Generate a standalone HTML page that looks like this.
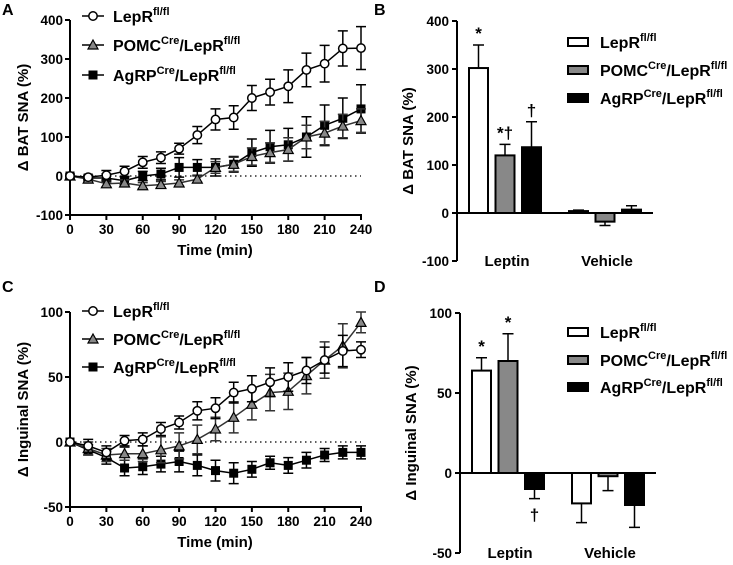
<!DOCTYPE html>
<html><head><meta charset="utf-8"><style>
body{margin:0;background:#fff}
svg text{font-family:"Liberation Sans",Arial,sans-serif;font-weight:bold;fill:#000}
</style></head><body>
<svg id="fig" width="733" height="560" viewBox="0 0 733 560" xmlns="http://www.w3.org/2000/svg">
<text x="2" y="15" font-size="16">A</text>
<text x="374" y="15" font-size="16">B</text>
<text x="2" y="292" font-size="16">C</text>
<text x="374" y="292" font-size="16">D</text>
</svg>
<script>
const times=[0,15,30,45,60,75,90,105,120,135,150,165,180,195,210,225,240];
const xTicks=[0,30,60,90,120,150,180,210,240];
const aLep=[0,-3,2,12,35,47,70,105,145,150,200,215,230,272,288,327,328];
const aLepE=[0,5,12,13,15,15,14,22,27,30,32,33,42,43,47,45,55];
const aPomc=[0,-8,-20,-18,-25,-22,-18,-8,22,30,50,60,68,100,110,128,142];
const aPomcE=[5,5,8,8,8,8,8,8,15,18,22,25,30,30,30,30,30];
const aAgrp=[0,-5,-5,-12,0,5,22,22,22,30,60,75,80,100,130,148,172];
const aAgrpE=[5,5,10,10,12,15,25,20,22,20,35,42,42,52,52,52,62];
const aTicks=[-100,0,100,200,300,400];
const cLep=[0,-3,-8,1,2,10,15,24,26,38,41,46,50,55,63,70,71];
const cLepE=[0,5,5,4,5,5,5,7,8,8,10,11,11,10,10,12,6];
const cPomc=[0,-5,-10,-9,-9,-6,-3,2,10,19,29,38,39,51,63,74,92];
const cPomcE=[0,5,5,5,6,10,10,11,9,12,12,14,14,14,14,17,8];
const cAgrp=[0,-6,-12,-20,-19,-17,-15,-18,-22,-24,-21,-16,-18,-14,-10,-8,-8];
const cAgrpE=[0,4,5,6,6,6,8,8,8,8,6,5,6,6,5,5,5];
const cTicks=[-50,0,50,100];
const groups=["Leptin","Vehicle"];
const bVals=[[302,120,137],[4,-18,7]];
const bErrs=[[48,23,53],[2,8,8]];
const bTicks=[-100,0,100,200,300,400];
const bMarks=[["*","*†","†"],["","",""]];
const dVals=[[64,70,-10],[-19,-2,-20]];
const dErrs=[[8,17,6],[12,9,14]];
const dTicks=[-50,0,50,100];
const dMarks=[["*","*","†"],["","",""]];

const svg=document.getElementById('fig');
const NS='http://www.w3.org/2000/svg';
function mk(tag,attrs,parent,name){const e=document.createElementNS(NS,tag);for(const k in attrs)e.setAttribute(k,attrs[k]);


(parent||svg).appendChild(e);return e;}
function legendText(g,x,y,sup1,name){const t=mk('text',{x:x,y:y+6,'font-size':16},g,name);
 if(sup1){t.appendChild(document.createTextNode(sup1[0]));const s=document.createElementNS(NS,'tspan');s.setAttribute('font-size','11');s.setAttribute('dy','-7');s.textContent=sup1[1];t.appendChild(s);
 const s2=document.createElementNS(NS,'tspan');s2.setAttribute('dy','7');s2.textContent='/LepR';t.appendChild(s2);
 const s3=document.createElementNS(NS,'tspan');s3.setAttribute('font-size','11');s3.setAttribute('dy','-7');s3.textContent='fl/fl';t.appendChild(s3);}
 else{t.appendChild(document.createTextNode('LepR'));const s=document.createElementNS(NS,'tspan');s.setAttribute('font-size','11');s.setAttribute('dy','-7');s.textContent='fl/fl';t.appendChild(s);}
}
const labels=[null,['POMC','Cre'],['AgRP','Cre']];
function marker(g,type,x,y,name){
 if(type==0)mk('circle',{cx:x,cy:y,r:4.2,fill:'#fff',stroke:'#000','stroke-width':1.5},g,name);
 else if(type==1)mk('path',{d:`M${x} ${y-5}L${x+5} ${y+4}L${x-5} ${y+4}Z`,fill:'#888',stroke:'#000','stroke-width':1.2},g,name);
 else mk('rect',{x:x-4.5,y:y-4.5,width:9,height:9,fill:'#000'},g,name);
}
function linePanel(id,y0,y1,ymin,ymax,ticks,series,errs,title,legY){
 const g=mk('g',{},svg,'line-chart-'+id);
 const X=t=>70+t/240*291, Y=v=>y0+(v-ymin)/(ymax-ymin)*(y1-y0);
 mk('line',{x1:70,y1:Y(ticks[ticks.length-1]),x2:70,y2:y0,stroke:'#000','stroke-width':2},g,'y-axis');
 mk('line',{x1:69,y1:y0,x2:362,y2:y0,stroke:'#000','stroke-width':2},g,'x-axis');
 mk('line',{x1:70,y1:Y(0),x2:361,y2:Y(0),stroke:'#000','stroke-width':1.3,'stroke-dasharray':'1.5 3.5'},g,'zero-line');
 ticks.forEach(v=>{mk('line',{x1:65,y1:Y(v),x2:70,y2:Y(v),stroke:'#000','stroke-width':2},g,'y-tick');
  const t=mk('text',{x:63,y:Y(v)+5,'font-size':13.5,'text-anchor':'end'},g,'y-tick-label');t.textContent=v;});
 xTicks.forEach(v=>{mk('line',{x1:X(v),y1:y0,x2:X(v),y2:y0+5,stroke:'#000','stroke-width':2},g,'x-tick');
  const t=mk('text',{x:X(v),y:y0+19,'font-size':13.5,'text-anchor':'middle'},g,'x-tick-label');t.textContent=v;});
 const xt=mk('text',{x:215,y:y0+40,'font-size':15,'text-anchor':'middle'},g,'x-axis-title');xt.textContent='Time (min)';
 const yt=mk('text',{x:0,y:0,'font-size':15,'text-anchor':'middle',transform:`translate(28,${(Y(ticks[ticks.length-1])+y0)/2}) rotate(-90)`},g,'y-axis-title');yt.textContent=title;
 [2,1,0].forEach(s=>{
  const sg=mk('g',{},g,'series-'+s);
  series[s].forEach((v,i)=>{const x=X(times[i]);const e=errs[s][i];
   mk('path',{d:`M${x} ${Y(v-e)}V${Y(v+e)}M${x-5} ${Y(v+e)}H${x+5}M${x-5} ${Y(v-e)}H${x+5}`,stroke:s==1?'#333':'#000','stroke-width':1.5,fill:'none'},sg,'error-bar');});
  mk('polyline',{points:series[s].map((v,i)=>X(times[i])+','+Y(v)).join(' '),fill:'none',stroke:s==1?'#333':'#000','stroke-width':1.5},sg,'series-line');
  series[s].forEach((v,i)=>marker(sg,s,X(times[i]),Y(v),'point'));
 });
 legY.forEach((ly,s)=>{const lg=mk('g',{},g,'legend-entry');
  mk('line',{x1:82,y1:ly,x2:104,y2:ly,stroke:'#000','stroke-width':1.5},lg,'legend-line');
  marker(lg,s,93,ly,'legend-marker');legendText(lg,113,ly,labels[s],'legend-label');});
}
function barPanel(id,ax,y0,ybot,ymin,ymax,ticks,vals,errs,marks,title,legY){
 const g=mk('g',{},svg,'bar-chart-'+id);
 const ymaxPx=ybot-(ymax-ymin)*(ybot-y0)/(0-ymin);
 const Y=v=>y0+v/ymax*(ymaxPx-y0);
 mk('line',{x1:ax,y1:ymaxPx,x2:ax,y2:ybot,stroke:'#000','stroke-width':2},g,'y-axis');
 ticks.forEach(v=>{mk('line',{x1:ax-5,y1:Y(v),x2:ax,y2:Y(v),stroke:'#000','stroke-width':2},g,'y-tick');
  const t=mk('text',{x:ax-8,y:Y(v)+5,'font-size':13.5,'text-anchor':'end'},g,'y-tick-label');t.textContent=v;});
 const fills=['#fff','#888','#000'];
 vals.forEach((gv,gi)=>{gv.forEach((v,bi)=>{const x=ax+12+gi*100+bi*26.5;const e=errs[gi][bi];
  const tip=v+(v>=0?e:-e);
  mk('path',{d:`M${x+9.5} ${Y(v)}V${Y(tip)}M${x+4} ${Y(tip)}H${x+15}`,stroke:'#000','stroke-width':1.5},g,'error-bar');
  mk('rect',{x:x,y:Math.min(Y(v),Y(0)),width:19,height:Math.abs(Y(v)-Y(0)),fill:fills[bi],stroke:'#000','stroke-width':2},g,'bar-'+groups[gi].toLowerCase()+'-'+bi);
  if(marks[gi][bi]){const t=mk('text',{x:x+9.5,y:v>=0?Y(tip)-6:Y(tip)+22,'font-size':17,'text-anchor':'middle'},g,'significance-mark');t.textContent=marks[gi][bi];}
 });
  const t=mk('text',{x:ax+50+gi*100,y:ybot+5,'font-size':15,'text-anchor':'middle'},g,'x-category-label');t.textContent=groups[gi];});
 mk('line',{x1:ax,y1:Y(0),x2:ax+196,y2:Y(0),stroke:'#000','stroke-width':2},g,'baseline');
 const yt=mk('text',{x:0,y:0,'font-size':15,'text-anchor':'middle',transform:`translate(${ax-44},${(ymaxPx+ybot)/2}) rotate(-90)`},g,'y-axis-title');yt.textContent=title;
 legY.forEach((ly,s)=>{const lg=mk('g',{},g,'legend-entry');
  mk('rect',{x:568,y:ly-4,width:20,height:8,fill:fills[s],stroke:'#000','stroke-width':2},lg,'legend-swatch');
  legendText(lg,600,ly,labels[s],'legend-label');});
}
linePanel('a',215,176,-100,0,aTicks,[aLep,aPomc,aAgrp],[aLepE,aPomcE,aAgrpE],'Δ BAT SNA  (%)',[16,45,75]);
linePanel('c',507,442,-50,0,cTicks,[cLep,cPomc,cAgrp],[cLepE,cPomcE,cAgrpE],'Δ Inguinal SNA (%)',[311,339,367]);
barPanel('b',457,213,261,-100,400,bTicks,bVals,bErrs,bMarks,'Δ BAT SNA  (%)',[42,70,98]);
barPanel('d',460,473,553,-50,100,dTicks,dVals,dErrs,dMarks,'Δ Inguinal SNA (%)',[332,360,387]);
</script>
</body></html>
